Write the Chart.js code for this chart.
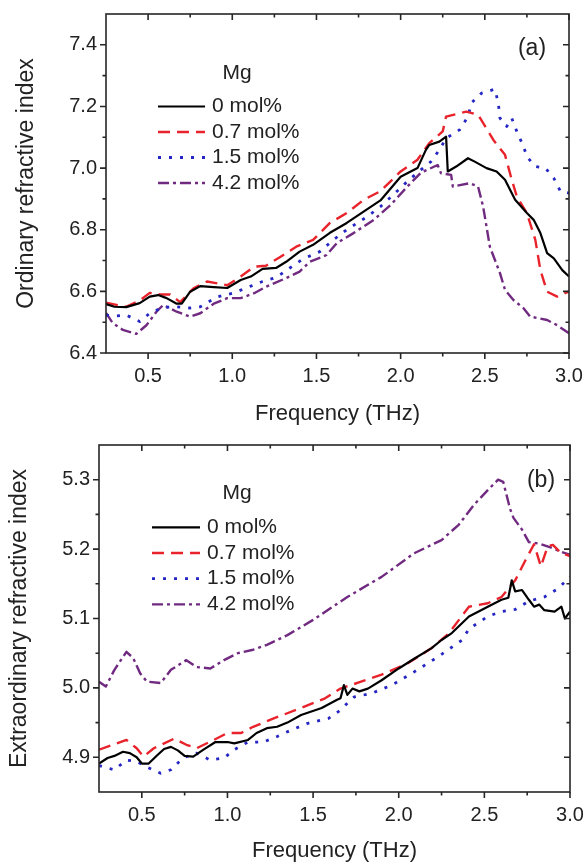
<!DOCTYPE html>
<html>
<head>
<meta charset="utf-8">
<script src="https://cdn.jsdelivr.net/npm/chart.js@4.4.0/dist/chart.umd.min.js"></script>
<style>
html,body{margin:0;padding:0;background:#fff;}
#wrap{position:relative;width:587px;height:862px;overflow:hidden;}
canvas{position:absolute;left:0;}
</style>
</head>
<body>
<div id="wrap">
<canvas id="ca" width="587" height="431" style="top:0px"></canvas>
<canvas id="cb" width="587" height="431" style="top:431px"></canvas>
</div>
<script>
// ---------- data ----------
const seriesLabels = ['0 mol%', '0.7 mol%', '1.5 mol%', '4.2 mol%'];
const legendTitle = 'Mg';

// tick values
const xTicks = [0.5, 1.0, 1.5, 2.0, 2.5, 3.0];
const xMinorTicks = [0.75, 1.25, 1.75, 2.25, 2.75];
const yTicksA = [6.4, 6.6, 6.8, 7.0, 7.2, 7.4];
const yMinorTicksA = [6.5, 6.7, 6.9, 7.1, 7.3];
const yTicksB = [4.9, 5.0, 5.1, 5.2, 5.3];
const yMinorTicksB = [4.95, 5.05, 5.15, 5.25];

// panel (a): ordinary refractive index
const fA0 = [0.25,0.30,0.37,0.45,0.51,0.56,0.61,0.67,0.70,0.75,0.81,0.89,0.97,1.05,1.11,1.18,1.26,1.32,1.40,1.48,1.58,1.68,1.78,1.88,2.00,2.10,2.15,2.17,2.23,2.27,2.28,2.33,2.40,2.44,2.51,2.57,2.62,2.68,2.75,2.79,2.83,2.87,2.91,2.96,3.00];
const nA0 = [6.559,6.550,6.549,6.562,6.583,6.588,6.578,6.560,6.560,6.599,6.617,6.614,6.611,6.637,6.648,6.673,6.676,6.696,6.729,6.751,6.790,6.822,6.859,6.895,6.972,7.000,7.059,7.075,7.086,7.102,6.989,7.005,7.032,7.021,7.000,6.989,6.962,6.897,6.854,6.832,6.789,6.724,6.707,6.669,6.648];

const fA1 = [0.25,0.37,0.45,0.51,0.57,0.63,0.69,0.77,0.85,0.97,1.05,1.13,1.20,1.28,1.38,1.48,1.58,1.68,1.78,1.88,2.00,2.10,2.17,2.25,2.27,2.39,2.46,2.55,2.62,2.66,2.69,2.75,2.80,2.83,2.87,2.93,3.00];
const nA1 = [6.563,6.550,6.570,6.595,6.590,6.590,6.565,6.610,6.632,6.620,6.648,6.680,6.683,6.710,6.745,6.767,6.822,6.854,6.897,6.925,6.989,7.027,7.081,7.119,7.167,7.183,7.173,7.092,7.043,6.962,6.908,6.854,6.767,6.669,6.599,6.583,6.600];

const fA2 = [0.25,0.31,0.37,0.45,0.51,0.59,0.67,0.75,0.81,0.91,1.01,1.11,1.18,1.26,1.34,1.42,1.52,1.60,1.68,1.80,1.88,1.95,2.05,2.12,2.18,2.23,2.27,2.35,2.40,2.42,2.48,2.56,2.58,2.59,2.63,2.66,2.69,2.73,2.75,2.80,2.86,2.91,2.95,3.00];
const nA2 = [6.523,6.520,6.523,6.502,6.529,6.548,6.550,6.546,6.550,6.582,6.595,6.617,6.632,6.645,6.675,6.705,6.729,6.767,6.800,6.842,6.875,6.910,6.962,6.994,7.021,7.059,7.097,7.124,7.167,7.211,7.243,7.256,7.211,7.162,7.135,7.162,7.119,7.070,7.037,7.005,7.000,6.967,6.924,6.919];

const fA3 = [0.25,0.29,0.35,0.43,0.49,0.55,0.59,0.67,0.75,0.81,0.89,0.97,1.05,1.13,1.20,1.32,1.40,1.46,1.56,1.62,1.72,1.84,1.94,2.04,2.12,2.22,2.24,2.30,2.31,2.41,2.46,2.49,2.53,2.59,2.62,2.67,2.73,2.77,2.87,2.93,3.00];
const nA3 = [6.530,6.497,6.475,6.462,6.490,6.534,6.556,6.534,6.518,6.529,6.560,6.578,6.578,6.594,6.615,6.643,6.664,6.696,6.718,6.756,6.789,6.832,6.880,6.940,6.985,7.010,6.983,6.978,6.940,6.951,6.940,6.875,6.745,6.659,6.605,6.572,6.545,6.518,6.507,6.490,6.464];

// panel (b): extraordinary refractive index
const fB0 = [0.25,0.30,0.34,0.39,0.43,0.47,0.50,0.54,0.59,0.63,0.67,0.71,0.75,0.80,0.86,0.93,1.00,1.04,1.12,1.17,1.23,1.29,1.35,1.43,1.55,1.64,1.66,1.68,1.70,1.73,1.77,1.82,1.90,2.00,2.09,2.19,2.25,2.31,2.41,2.52,2.60,2.64,2.66,2.68,2.72,2.76,2.79,2.82,2.85,2.91,2.95,2.97,3.00];
const nB0 = [4.891,4.899,4.902,4.908,4.906,4.900,4.891,4.891,4.903,4.912,4.915,4.910,4.902,4.901,4.911,4.922,4.922,4.920,4.925,4.935,4.942,4.944,4.950,4.961,4.971,4.983,4.985,5.004,4.990,4.999,4.995,4.999,5.011,5.028,5.042,5.057,5.069,5.079,5.103,5.117,5.127,5.130,5.155,5.139,5.141,5.127,5.117,5.120,5.112,5.110,5.117,5.100,5.110];

const fB1 = [0.25,0.33,0.41,0.47,0.51,0.57,0.69,0.76,0.82,0.92,1.00,1.08,1.15,1.27,1.43,1.57,1.66,1.78,1.90,2.05,2.19,2.29,2.41,2.52,2.60,2.68,2.74,2.79,2.83,2.87,2.90,2.95,3.00];
const nB1 = [4.911,4.918,4.925,4.913,4.901,4.913,4.927,4.918,4.913,4.925,4.935,4.935,4.944,4.956,4.971,4.985,4.999,5.009,5.019,5.035,5.057,5.078,5.117,5.122,5.131,5.155,5.184,5.207,5.175,5.204,5.206,5.194,5.190];

const fB2 = [0.25,0.34,0.41,0.47,0.53,0.61,0.67,0.74,0.82,0.90,0.98,1.04,1.12,1.21,1.29,1.37,1.47,1.59,1.66,1.70,1.74,1.84,1.96,2.09,2.23,2.37,2.41,2.52,2.60,2.68,2.76,2.85,2.93,3.00];
const nB2 = [4.888,4.882,4.896,4.894,4.886,4.877,4.882,4.899,4.906,4.896,4.899,4.911,4.922,4.922,4.930,4.939,4.949,4.956,4.968,4.978,4.987,4.992,5.004,5.023,5.045,5.069,5.085,5.103,5.110,5.113,5.125,5.131,5.143,5.160];

const fB3 = [0.25,0.29,0.34,0.41,0.45,0.49,0.53,0.61,0.67,0.76,0.82,0.90,0.98,1.06,1.15,1.23,1.35,1.50,1.70,1.90,2.09,2.25,2.35,2.44,2.52,2.58,2.61,2.65,2.67,2.72,2.76,2.82,2.89,2.95,3.00];
const nB3 = [5.009,5.002,5.026,5.052,5.043,5.021,5.009,5.007,5.026,5.040,5.030,5.028,5.040,5.050,5.055,5.062,5.076,5.098,5.131,5.160,5.194,5.213,5.235,5.264,5.285,5.300,5.297,5.258,5.245,5.228,5.210,5.208,5.202,5.196,5.192];

// ---------- styles ----------
const FONT = '"Liberation Sans", Arial, Helvetica, sans-serif';
const TEXT = '#222222';
const colors = ['#000000', '#e8232b', '#2626c4', '#702a80'];
const dashes = [[], [12, 7], [3, 8], [11, 4, 3, 4]];
const widths = [2.2, 2.4, 2.8, 2.4];

Chart.defaults.font.family = FONT;
Chart.defaults.color = TEXT;

function pairs(xs, ys) { return xs.map((x, i) => ({x: x, y: ys[i]})); }

function makeDatasets(list) {
  return list.map((d, i) => ({
    label: seriesLabels[i],
    data: pairs(d[0], d[1]),
    showLine: true,
    borderColor: colors[i],
    backgroundColor: colors[i],
    borderWidth: widths[i],
    borderDash: dashes[i],
    borderCapStyle: 'butt',
    borderJoinStyle: 'round',
    pointRadius: 0,
    pointHoverRadius: 0,
    tension: 0,
    fill: false
  }));
}

const framePlugin = {
  id: 'frame',
  afterDraw(chart, args, o) {
    const {ctx, chartArea: a} = chart;
    const xs = chart.scales.x, ys = chart.scales.y;
    ctx.save();
    ctx.strokeStyle = '#262626';
    ctx.lineWidth = 1.6;
    ctx.setLineDash([]);
    ctx.strokeRect(a.left, a.top, a.right - a.left, a.bottom - a.top);
    ctx.beginPath();
    const MAJ = 6, MIN = 3.5;
    o.xMajor.forEach(v => { const p = xs.getPixelForValue(v);
      ctx.moveTo(p, a.bottom); ctx.lineTo(p, a.bottom + MAJ);
      ctx.moveTo(p, a.top); ctx.lineTo(p, a.top + MAJ); });
    o.xMinor.forEach(v => { const p = xs.getPixelForValue(v);
      ctx.moveTo(p, a.bottom); ctx.lineTo(p, a.bottom + MIN);
      ctx.moveTo(p, a.top); ctx.lineTo(p, a.top + MIN); });
    o.yMajor.forEach(v => { const p = ys.getPixelForValue(v);
      ctx.moveTo(a.left, p); ctx.lineTo(a.left - MAJ, p);
      ctx.moveTo(a.right, p); ctx.lineTo(a.right - MAJ, p); });
    o.yMinor.forEach(v => { const p = ys.getPixelForValue(v);
      ctx.moveTo(a.left, p); ctx.lineTo(a.left - MIN, p);
      ctx.moveTo(a.right, p); ctx.lineTo(a.right - MIN, p); });
    ctx.stroke();
    ctx.restore();
  }
};

const legendPlugin = {
  id: 'innerLegend',
  afterDraw(chart, args, o) {
    const ctx = chart.ctx;
    ctx.save();
    ctx.fillStyle = TEXT;
    ctx.textBaseline = 'middle';
    ctx.font = '21px ' + FONT;
    ctx.textAlign = 'center';
    ctx.fillText(legendTitle, o.titleX, o.titleY);
    ctx.textAlign = 'left';
    chart.data.datasets.forEach((ds, i) => {
      const yy = o.rowY0 + i * o.rowGap;
      ctx.beginPath();
      ctx.setLineDash(ds.borderDash);
      ctx.strokeStyle = ds.borderColor;
      ctx.lineWidth = ds.borderWidth;
      ctx.moveTo(o.x0, yy); ctx.lineTo(o.x1, yy);
      ctx.stroke();
      ctx.setLineDash([]);
      ctx.fillText(ds.label, o.textX, yy);
    });
    ctx.font = '23px ' + FONT;
    ctx.textAlign = 'center';
    ctx.fillText(o.panel, o.panelX, o.panelY);
    ctx.restore();
  }
};

function makeChart(id, datasets, cfg) {
  return new Chart(document.getElementById(id), {
    type: 'scatter',
    data: {datasets: datasets},
    plugins: [framePlugin, legendPlugin],
    options: {
      responsive: false,
      devicePixelRatio: 1,
      animation: false,
      events: [],
      layout: {padding: {top: 14, right: cfg.padRight, left: 0, bottom: 0}},
      plugins: {
        legend: {display: false},
        tooltip: {enabled: false},
        frame: {xMajor: xTicks, xMinor: xMinorTicks, yMajor: cfg.yTicks, yMinor: cfg.yMinor},
        innerLegend: cfg.legend
      },
      scales: {
        x: {
          type: 'linear', position: 'bottom', min: 0.25, max: 3.0,
          grid: {display: false, drawTicks: false},
          border: {display: false},
          afterBuildTicks: s => { s.ticks = xTicks.map(v => ({value: v})); },
          afterFit: s => { s.height = cfg.xHeight; s.paddingLeft = 0; s.paddingRight = 0; },
          ticks: {autoSkip: false, maxRotation: 0, padding: 11, color: TEXT,
                  font: {size: 20}, callback: v => Number(v).toFixed(1)},
          title: {display: true, text: 'Frequency (THz)', color: TEXT,
                  font: {size: 22, lineHeight: 1}, padding: {top: 0, bottom: cfg.xTitlePad}}
        },
        y: {
          type: 'linear', position: 'left', min: cfg.yMin, max: cfg.yMax,
          grid: {display: false, drawTicks: false},
          border: {display: false},
          afterBuildTicks: s => { s.ticks = cfg.yTicks.map(v => ({value: v})); },
          afterFit: s => { s.width = cfg.yWidth; s.paddingTop = 0; s.paddingBottom = 0; },
          ticks: {padding: 9, color: TEXT, font: {size: 20},
                  callback: v => Number(v).toFixed(1)},
          title: {display: true, text: cfg.yTitle, color: TEXT,
                  font: {size: 23, lineHeight: 1}, padding: {top: cfg.yTitlePad, bottom: 0}}
        }
      }
    }
  });
}

makeChart('ca', makeDatasets([[fA0, nA0], [fA1, nA1], [fA2, nA2], [fA3, nA3]]), {
  padRight: 18, xHeight: 78, yWidth: 106, yMin: 6.4, yMax: 7.5,
  yTicks: yTicksA, yMinor: yMinorTicksA, yTitle: 'Ordinary refractive index',
  xTitlePad: 6, yTitlePad: 15,
  legend: {titleX: 237, titleY: 73, rowY0: 106.5, rowGap: 25.5, x0: 158, x1: 205, textX: 212,
           panel: '(a)', panelX: 532, panelY: 49}
});

makeChart('cb', makeDatasets([[fB0, nB0], [fB1, nB1], [fB2, nB2], [fB3, nB3]]), {
  padRight: 17, xHeight: 70, yWidth: 99, yMin: 4.85, yMax: 5.35,
  yTicks: yTicksB, yMinor: yMinorTicksB, yTitle: 'Extraordinary refractive index',
  xTitlePad: 0, yTitlePad: 8,
  legend: {titleX: 237, titleY: 62, rowY0: 96.3, rowGap: 25.7, x0: 152, x1: 200, textX: 207,
           panel: '(b)', panelX: 541, panelY: 50}
});
</script>
</body>
</html>
